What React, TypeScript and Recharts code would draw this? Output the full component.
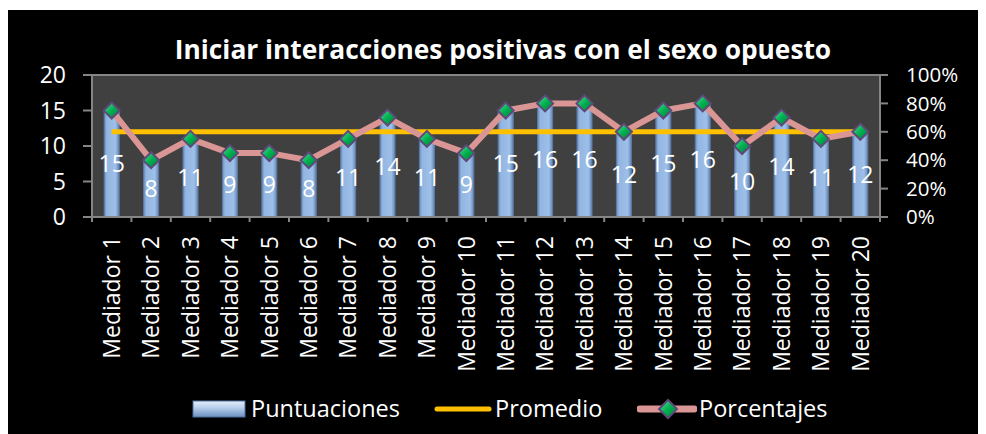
import React from 'react';
import { ComposedChart, Bar, Line, XAxis, YAxis, CartesianGrid, Legend, LabelList } from 'recharts';

const categories = [
  'Mediador 1', 'Mediador 2', 'Mediador 3', 'Mediador 4', 'Mediador 5',
  'Mediador 6', 'Mediador 7', 'Mediador 8', 'Mediador 9', 'Mediador 10',
  'Mediador 11', 'Mediador 12', 'Mediador 13', 'Mediador 14', 'Mediador 15',
  'Mediador 16', 'Mediador 17', 'Mediador 18', 'Mediador 19', 'Mediador 20',
];
const puntuaciones = [15, 8, 11, 9, 9, 8, 11, 14, 11, 9, 15, 16, 16, 12, 15, 16, 10, 14, 11, 12];
const promedio = [12, 12, 12, 12, 12, 12, 12, 12, 12, 12, 12, 12, 12, 12, 12, 12, 12, 12, 12, 12];
const porcentajes = [75, 40, 55, 45, 45, 40, 55, 70, 55, 45, 75, 80, 80, 60, 75, 80, 50, 70, 55, 60];
const leftTicks = [0, 5, 10, 15, 20];
const rightTicks = [0, 20, 40, 60, 80, 100];

const data = categories.map((name, i) => ({
  name,
  Puntuaciones: puntuaciones[i],
  Promedio: promedio[i],
  Porcentajes: porcentajes[i],
}));

const W = 978;
const H = 424;
const LEFT = 84;
const RIGHT = 106;
const BAND = (W - LEFT - RIGHT) / categories.length;
const FONT = '"Open Sans", Lato, sans-serif';
const GRID = '#858585';

const Diamond = (props: any) => {
  const { cx, cy } = props;
  if (cx == null || cy == null) return null;
  const s = 8;
  return (
    <polygon
      points={`${cx},${cy - s} ${cx + s},${cy} ${cx},${cy + s} ${cx - s},${cy}`}
      fill="url(#greenDia)"
      stroke="#5f497a"
      strokeWidth={2}
    />
  );
};

const XTick = (props: any) => {
  const { x, y, payload, index } = props;
  return (
    <g>
      <line x1={x - BAND / 2} y1={y} x2={x - BAND / 2} y2={y + 5} stroke={GRID} strokeWidth={2} />
      {index === categories.length - 1 && (
        <line x1={x + BAND / 2} y1={y} x2={x + BAND / 2} y2={y + 5} stroke={GRID} strokeWidth={2} />
      )}
      <text
        transform={`translate(${x},${y + 19}) rotate(-90)`}
        textAnchor="end"
        dy="0.36em"
        fill="#fff"
        fontSize={23}
        fontFamily={FONT}
      >
        {payload.value}
      </text>
    </g>
  );
};

const LegendContent = () => (
  <div style={{ position: 'relative', height: 40, fontFamily: FONT, fontSize: 23.5, color: '#fff', lineHeight: 'normal' }}>
    <svg width={54} height={18} style={{ position: 'absolute', left: 184, top: 16 }}>
      <rect x={1} y={1} width={52} height={16} fill="url(#legBar)" stroke="#4f6f9f" strokeWidth={1} />
    </svg>
    <span style={{ position: 'absolute', left: 243, top: 8, whiteSpace: 'nowrap' }}>Puntuaciones</span>
    <svg width={58} height={14} style={{ position: 'absolute', left: 426, top: 18 }}>
      <line x1={3} y1={7} x2={55} y2={7} stroke="#ffc000" strokeWidth={5} strokeLinecap="round" />
    </svg>
    <span style={{ position: 'absolute', left: 487, top: 8, whiteSpace: 'nowrap' }}>Promedio</span>
    <svg width={60} height={22} style={{ position: 'absolute', left: 629, top: 14 }}>
      <line x1={3} y1={11} x2={57} y2={11} stroke="#d99694" strokeWidth={7} strokeLinecap="round" />
      <polygon points="31,2 40,11 31,20 22,11" fill="url(#greenDia)" stroke="#5f497a" strokeWidth={2} />
    </svg>
    <span style={{ position: 'absolute', left: 691, top: 8, whiteSpace: 'nowrap' }}>Porcentajes</span>
  </div>
);

export default function App() {
  return (
    <div style={{ position: 'relative', width: W, height: H, marginTop: 2, background: '#000', fontFamily: FONT }}>
      <svg width={0} height={0} style={{ position: 'absolute' }}>
        <defs>
          <linearGradient id="greenDia" x1="0" y1="0" x2="1" y2="1">
            <stop offset="0%" stopColor="#5be39a" />
            <stop offset="50%" stopColor="#00b050" />
            <stop offset="100%" stopColor="#007a38" />
          </linearGradient>
          <linearGradient id="legBar" x1="0" y1="0" x2="0" y2="1">
            <stop offset="0%" stopColor="#e4eef9" />
            <stop offset="40%" stopColor="#b9d0ee" />
            <stop offset="100%" stopColor="#6c8fc0" />
          </linearGradient>
        </defs>
      </svg>
      <div
        style={{
          position: 'absolute',
          top: 21,
          left: 0,
          width: W + 12,
          textAlign: 'center',
          color: '#fff',
          fontWeight: 700,
          fontSize: 26.3,
          lineHeight: '36px',
          zIndex: 2,
        }}
      >
        Iniciar interacciones positivas con el sexo opuesto
      </div>
      <ComposedChart
        width={W}
        height={H}
        data={data}
        margin={{ top: 65, right: 0, bottom: 10, left: 0 }}
        barCategoryGap="31%"
      >
        <defs>
          <linearGradient id="barGrad" x1="0" y1="0" x2="1" y2="0">
            <stop offset="0%" stopColor="#6a8cbb" />
            <stop offset="18%" stopColor="#93b6e2" />
            <stop offset="75%" stopColor="#9dbfe8" />
            <stop offset="100%" stopColor="#6585b3" />
          </linearGradient>
        </defs>
        <CartesianGrid vertical={false} stroke={GRID} strokeWidth={2} fill="#404040" />
        <XAxis
          dataKey="name"
          height={167}
          interval={0}
          tickSize={0}
          tickMargin={0}
          axisLine={{ stroke: GRID, strokeWidth: 2 }}
          tick={<XTick />}
        />
        <YAxis
          yAxisId="left"
          width={LEFT}
          domain={[0, 20]}
          ticks={leftTicks}
          interval={0}
          tickSize={9}
          tickMargin={17}
          axisLine={{ stroke: GRID, strokeWidth: 2 }}
          tickLine={{ stroke: GRID, strokeWidth: 2 }}
          tick={{ fill: '#fff', fontSize: 23, fontFamily: FONT }}
        />
        <YAxis
          yAxisId="right"
          orientation="right"
          width={RIGHT}
          domain={[0, 100]}
          ticks={rightTicks}
          interval={0}
          tickFormatter={(v: number) => `${v}%`}
          tickSize={8}
          tickMargin={18}
          axisLine={{ stroke: GRID, strokeWidth: 2 }}
          tickLine={{ stroke: GRID, strokeWidth: 2 }}
          tick={{ fill: '#fff', fontSize: 20.5, fontFamily: FONT, textAnchor: 'start' }}
        />
        <Legend verticalAlign="bottom" height={40} content={<LegendContent />} />
        <Bar
          yAxisId="left"
          dataKey="Puntuaciones"
          fill="url(#barGrad)"
          stroke="#5b7aa8"
          strokeWidth={1}
          isAnimationActive={false}
        >
          <LabelList
            dataKey="Puntuaciones"
            position="center"
            fill="#fff"
            fontSize={23}
            fontFamily={FONT}
            offset={0}
          />
        </Bar>
        <Line
          yAxisId="left"
          dataKey="Promedio"
          stroke="#ffc000"
          strokeWidth={5}
          dot={false}
          activeDot={false}
          isAnimationActive={false}
        />
        <Line
          yAxisId="right"
          dataKey="Porcentajes"
          stroke="#d99694"
          strokeWidth={6}
          strokeLinejoin="round"
          dot={<Diamond />}
          activeDot={false}
          isAnimationActive={false}
        />
      </ComposedChart>
    </div>
  );
}
